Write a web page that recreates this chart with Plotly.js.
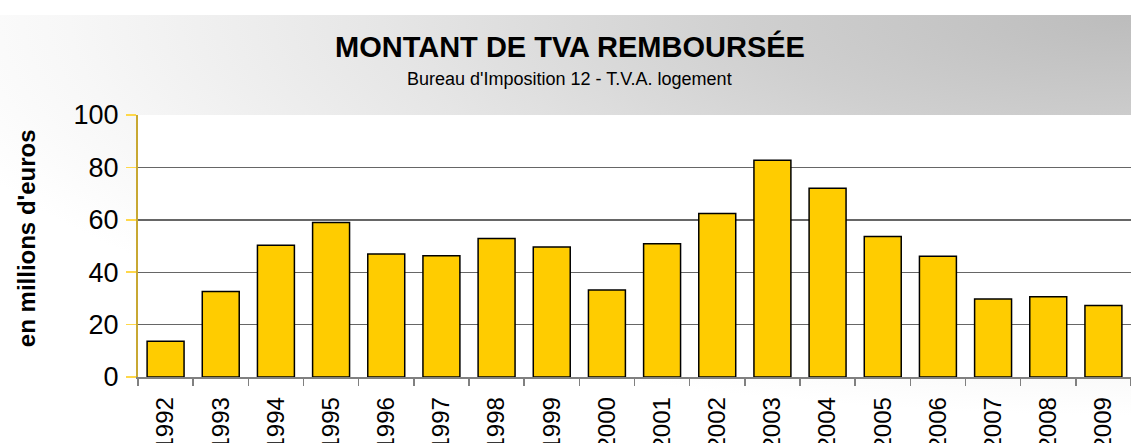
<!DOCTYPE html>
<html>
<head>
<meta charset="utf-8">
<script src="https://cdn.plot.ly/plotly-3.0.1.min.js"></script>
<style>
  html, body { margin: 0; padding: 0; background: #ffffff; }
  #wrap { position: relative; width: 1131px; height: 443px; overflow: hidden; background: #ffffff; }
  #bg { position: absolute; left: 0; top: 15px; width: 1131px; height: 428px;
        background: radial-gradient(ellipse 1250px 400px at 100% 0%, #bcbcbc 0%, #cfcfcf 30%, #e6e6e6 60%, #f7f7f7 85%, #ffffff 100%); }
  #chart { position: absolute; left: 0; top: 0; width: 1131px; height: 443px; }
</style>
</head>
<body>
<div id="wrap"><div id="bg"></div><div id="chart"></div></div>
<script>
const years = ['1992','1993','1994','1995','1996','1997','1998','1999','2000','2001','2002','2003','2004','2005','2006','2007','2008','2009'];
const montants = [13.6, 32.6, 50.3, 59.0, 46.9, 46.3, 52.9, 49.6, 33.2, 50.9, 62.4, 82.7, 72.0, 53.6, 46.1, 29.8, 30.6, 27.3];
const yTicks = [0, 20, 40, 60, 80, 100];
const chartTitle = 'MONTANT DE TVA REMBOURSÉE';
const chartSubtitle = "Bureau d'Imposition 12 - T.V.A. logement";
const yTitle = "en millions d'euros";

const trace = {
  type: 'bar',
  x: years,
  y: montants,
  marker: { color: '#FFCC00', line: { color: '#000000', width: 1.5 } },
  hoverinfo: 'x+y'
};

const layout = {
  width: 1131, height: 443,
  margin: { l: 138, r: 0, t: 115, b: 66 },
  paper_bgcolor: 'rgba(0,0,0,0)',
  plot_bgcolor: '#ffffff',
  bargap: 0.33,
  showlegend: false,
  font: { family: 'Liberation Sans, Arial, sans-serif', color: '#000000' },
  xaxis: {
    type: 'category',
    tickangle: -90,
    tickfont: { size: 24, color: '#000000' },
    ticks: 'outside', tickson: 'boundaries', ticklen: 7, tickcolor: '#808080', tickwidth: 1.5,
    ticklabelstandoff: 9,
    showline: true, linecolor: '#808080', linewidth: 1.5,
    showgrid: false, zeroline: false, fixedrange: true
  },
  yaxis: {
    range: [0, 100],
    tickvals: yTicks,
    ticktext: yTicks.map(String),
    tickfont: { size: 27, color: '#000000' },
    ticks: 'outside', ticklen: 10, tickcolor: '#FFD84A', tickwidth: 1.5,
    ticklabelstandoff: 2,
    showline: true, linecolor: '#C8A832', linewidth: 2,
    showgrid: true, gridcolor: '#666666', gridwidth: 1.4,
    zeroline: false, fixedrange: true
  },
  annotations: [
    { text: '<b>' + chartTitle + '</b>', xref: 'paper', yref: 'paper', x: 0.435, y: 1, yshift: 69,
      xanchor: 'center', yanchor: 'middle', showarrow: false, font: { size: 29, color: '#000000' } },
    { text: chartSubtitle, xref: 'paper', yref: 'paper', x: 0.435, y: 1, yshift: 36,
      xanchor: 'center', yanchor: 'middle', showarrow: false, font: { size: 18, color: '#000000' } },
    { text: '<b>' + yTitle + '</b>', xref: 'paper', yref: 'paper', x: 0, xshift: -112, y: 0.53,
      xanchor: 'center', yanchor: 'middle', textangle: -90, showarrow: false, font: { size: 24, color: '#000000' } }
  ]
};

Plotly.newPlot('chart', [trace], layout, { displayModeBar: false, staticPlot: true });
</script>
</body>
</html>
